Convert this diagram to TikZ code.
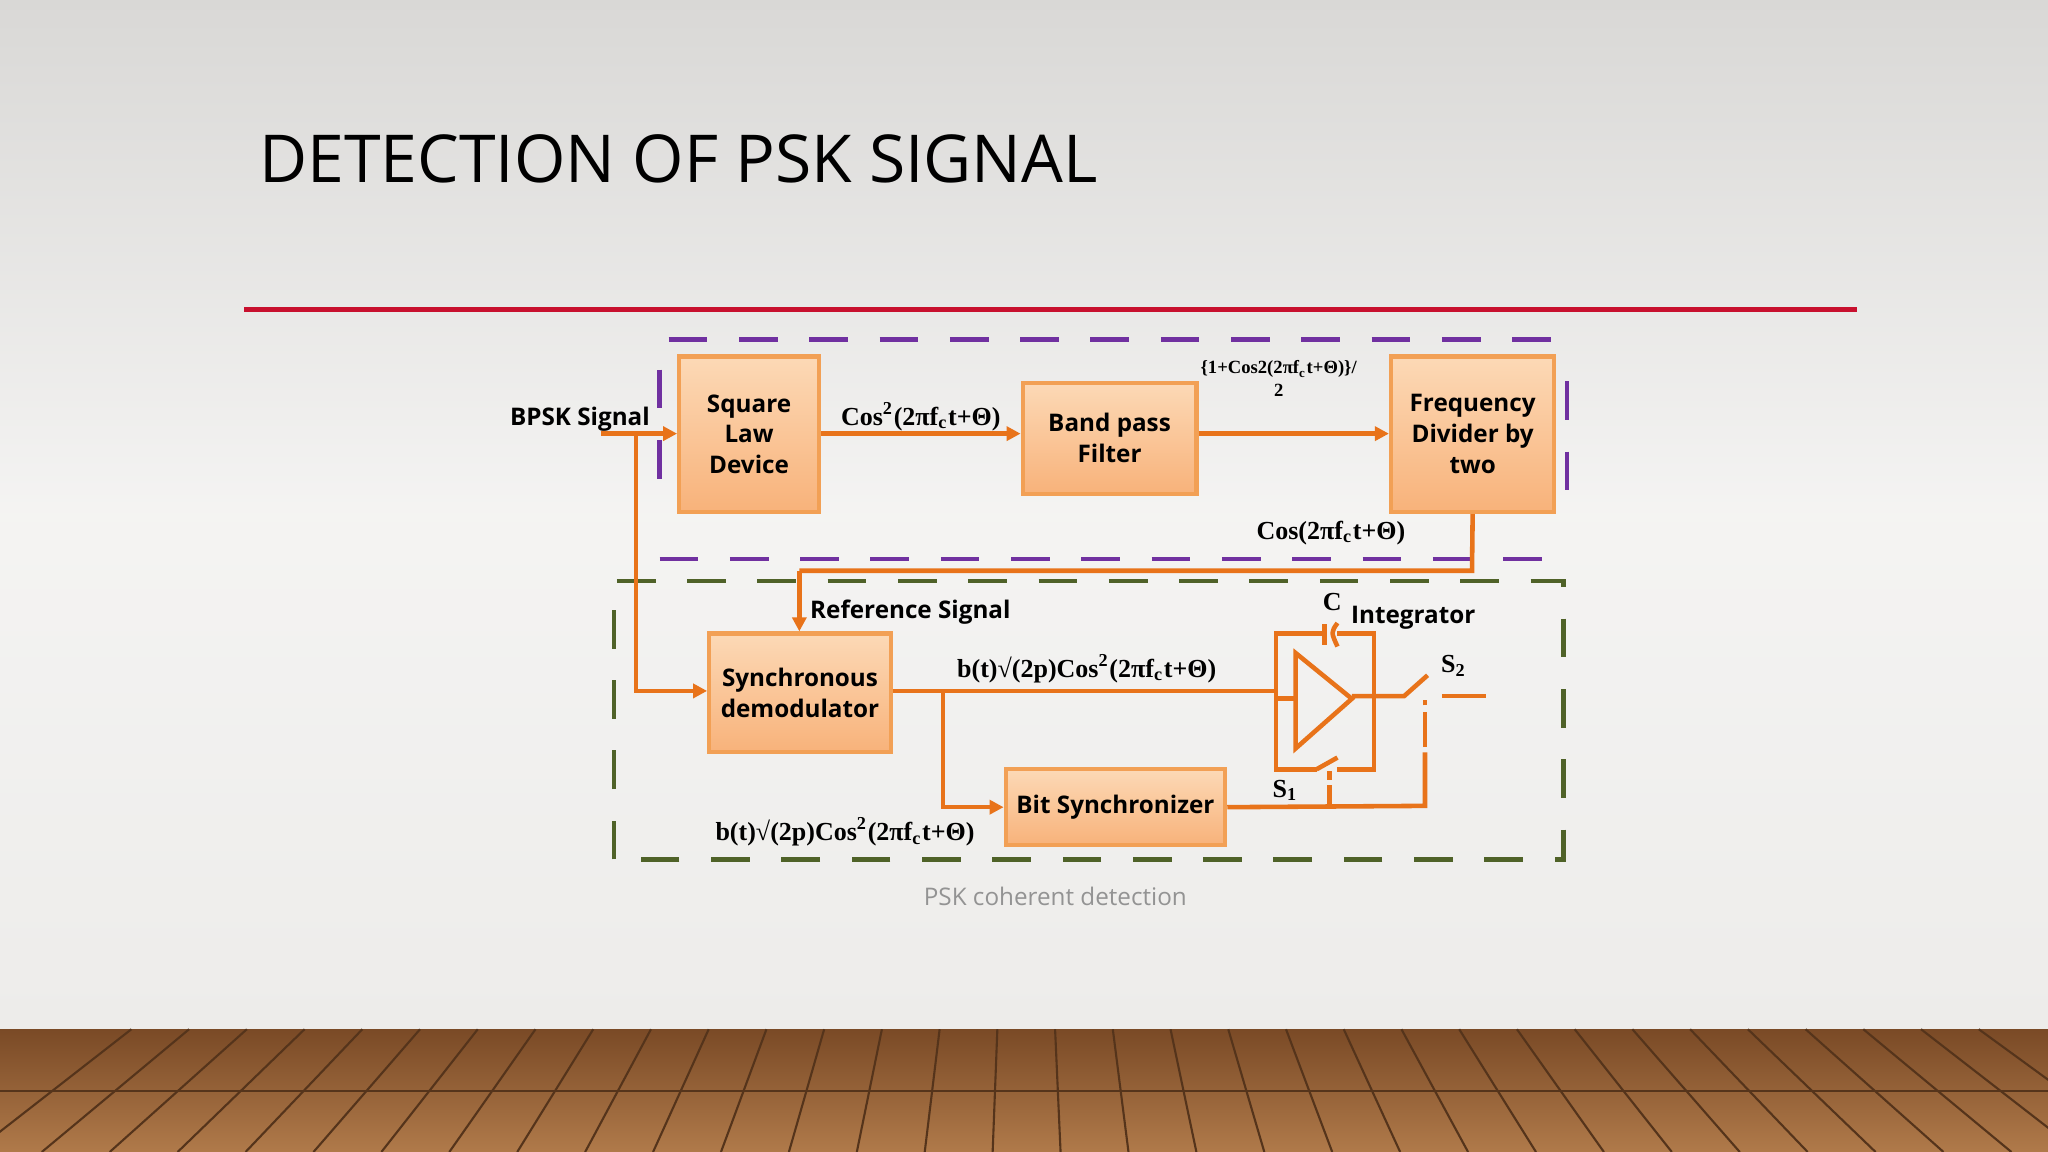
\documentclass[tikz,border=0pt]{standalone}
\usepackage{fontspec}
\setmainfont{Open Sans}
\newfontfamily\tms{Liberation Serif}
\usetikzlibrary{arrows.meta}
\definecolor{og}{HTML}{E8731A}
\definecolor{obord}{HTML}{F2A055}
\definecolor{otop}{HTML}{FCD9B6}
\definecolor{obot}{HTML}{F8B27A}
\definecolor{purp}{HTML}{7030A0}
\definecolor{grn}{HTML}{4F6228}
\definecolor{redl}{HTML}{C8102E}
\definecolor{bgtop}{HTML}{D9D8D6}
\definecolor{bgmid}{HTML}{EDECEA}
\definecolor{wood1}{HTML}{7A4A26}
\definecolor{wood2}{HTML}{B07A4A}
\tikzset{
 blk/.style={draw=obord,line width=1.2pt,top color=otop,bottom color=obot,font=\fontsize{6.9}{8.8}\selectfont\bfseries,align=center,inner sep=0pt},
 wire/.style={og,line width=1.3pt},
 arr/.style={wire,-{Triangle[length=4pt,width=4pt]}},
 mlab/.style={font=\tms\fontsize{7.4}{9}\selectfont\bfseries,inner sep=0pt},
 slab/.style={font=\fontsize{6.9}{9}\selectfont\bfseries,inner sep=0pt},
 pbox/.style={purp,line width=1.2pt,dash pattern=on 11pt off 9pt},
 gbox/.style={grn,line width=1.2pt,dash pattern=on 11pt off 9pt},
}
\begin{document}
\begin{tikzpicture}[x=0.01306cm,y=-0.01306cm]
\useasboundingbox (0,0) rectangle (1568,882);
\shade[top color=bgtop,bottom color=bgmid,middle color=bgmid!60!white] (0,0) rectangle (1568,788);
% floor
\shade[top color=wood1,bottom color=wood2] (0,788) rectangle (1568,882);
\foreach \i in {0,...,32}{
 \draw[wood1!70!black,line width=0.6pt] ({\i*52-20},882) -- ({784+(\i*52-20-784)*0.85},788);}
\draw[wood1!70!black,line width=0.6pt] (0,835) -- (1568,835);
% title
\node[anchor=base west,inner sep=0,font=\fontsize{18.8}{22}\selectfont] (title) at (198,140) {DETECTION OF PSK SIGNAL};
\draw[redl,line width=1.6pt] (187,237) -- (1422,237);
% dashed boxes
\draw[pbox] (512,260) -- (1200,260);
\draw[pbox] (505,428) -- (1200,428);
\draw[pbox] (505,283) -- (505,385);
\draw[pbox] (1200,292) -- (1200,398);
\draw[gbox] (470,658) -- (470,445) -- (1197,445) -- (1197,658) -- cycle;
% blocks
\node[blk,minimum width=107*0.01306cm,minimum height=119*0.01306cm] (sq) at (573.5,332.5) {Square\\Law\\Device};
\node[blk,minimum width=133*0.01306cm,minimum height=85*0.01306cm] (bp) at (849.5,335.5) {Band pass\\Filter};
\node[blk,minimum width=125*0.01306cm,minimum height=119*0.01306cm] (fd) at (1127.5,332.5) {Frequency\\Divider by\\two};
\node[blk,minimum width=139*0.01306cm,minimum height=91*0.01306cm] (sd) at (612.5,530.5) {Synchronous\\demodulator};
\node[blk,minimum width=168*0.01306cm,minimum height=58*0.01306cm] (bs) at (854,618) {Bit Synchronizer};
% labels
\node[slab,anchor=east] (bpsk) at (498,321) {BPSK Signal};
\coordinate (in) at (460,332);
\coordinate (br) at (487,332);
\draw[arr] (in) -- (sq.west|-in);
\draw[arr] (br) |- (sd.west|-0,529);
\draw[arr] (sq.east|-in) -- (bp.west|-in);
\node[mlab] (l1) at (705,319) {Cos\textsuperscript{2}(2πf\textsubscript{c}t+Θ)};
\draw[arr] (bp.east|-in) -- (fd.west|-in);
\node[font=\tms\fontsize{5.3}{6.5}\selectfont\bfseries,align=center,inner sep=0] (l2) at (979,290) {\{1+Cos2(2πf\textsubscript{c}t+Θ)\}/\\2};
\node[mlab] (l3) at (1019,408) {Cos(2πf\textsubscript{c}t+Θ)};
\coordinate (r1) at (1127,437);
\coordinate (r2) at (612,437);
\draw[wire] (fd.south) -- (r1) -- (r2);
\draw[arr] (r2) -- (r2|-sd.north);
\node[slab] (ref) at (697,469) {Reference Signal};
% sync output
\coordinate (ia) at (977,529);
\coordinate (b2) at (722,529);
\draw[wire] (sd.east|-ia) -- (ia);
\draw[arr] (b2) |- (bs.west);
\node[mlab] (l4) at (832,512) {b(t)√(2p)Cos\textsuperscript{2}(2πf\textsubscript{c}t+Θ)};
\node[mlab] (l5) at (647,637) {b(t)√(2p)Cos\textsuperscript{2}(2πf\textsubscript{c}t+Θ)};
% integrator
\draw[wire] (1014,485) -- (977,485) -- (977,589) -- (1008,589);
\draw[wire] (1024,485) -- (1052,485) -- (1052,589) -- (1024,589);
\draw[wire] (1014,478) -- (1014,494);
\draw[wire] (1024,477) .. controls (1019,484) .. (1024,495);
\draw[wire] (1008,589) -- (1024,580);
\draw[wire] (992,500) -- (992,573) -- (1035,535) -- cycle;
\draw[wire] (977,535) -- (992,535);
\draw[wire] (1035,533) -- (1075,533) -- (1093,517);
\draw[wire] (1104,533) -- (1138,533);
\draw[wire] (bs.east) -- (1091,617) -- (1091,576);
\draw[wire] (1091,572) -- (1091,545);
\draw[wire] (1091,540) -- (1091,536);
\draw[wire] (1018,617) -- (1018,601);
\draw[wire] (1018,597) -- (1018,590);
\node[mlab] (c) at (1020,461) {C};
\node[slab] (int) at (1082,473) {Integrator};
\node[mlab] (s2) at (1113,510) {S\textsubscript{2}};
\node[mlab] (s1) at (984,605) {S\textsubscript{1}};
\node[font=\fontsize{6.9}{9}\selectfont,text=gray!85,inner sep=0] (cap) at (808,686) {PSK coherent detection};
\end{tikzpicture}
\end{document}
